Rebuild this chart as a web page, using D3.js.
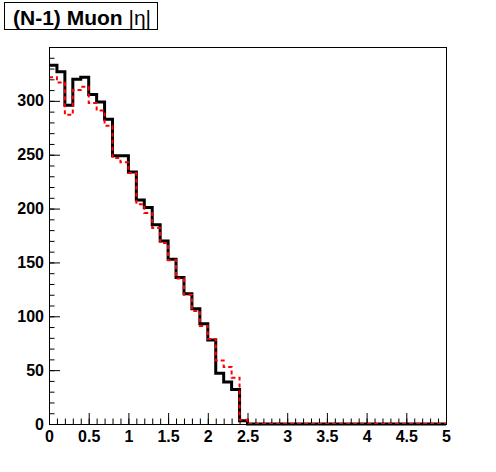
<!DOCTYPE html>
<html>
<head>
<meta charset="utf-8">
<script src="https://cdn.jsdelivr.net/npm/d3@7"></script>
<style>
  body { margin: 0; background: #fff; }
  svg { display: block; }
</style>
</head>
<body>
<svg id="chart"></svg>
<script>
// bin edges go 0 .. 5 in steps of 0.1 (50 bins)
var binLow = [0, 0.1, 0.2, 0.3, 0.4, 0.5, 0.6, 0.7, 0.8, 0.9,
  1.0, 1.1, 1.2, 1.3, 1.4, 1.5, 1.6, 1.7, 1.8, 1.9,
  2.0, 2.1, 2.2, 2.3, 2.4, 2.5, 2.6, 2.7, 2.8, 2.9,
  3.0, 3.1, 3.2, 3.3, 3.4, 3.5, 3.6, 3.7, 3.8, 3.9,
  4.0, 4.1, 4.2, 4.3, 4.4, 4.5, 4.6, 4.7, 4.8, 4.9];
var binWidth = 0.1;

// solid black histogram
var blackCounts = [333, 327, 296, 320, 322, 306, 299, 283, 249, 249,
  234, 208, 201, 185, 170, 153, 136, 121, 107, 93,
  78, 47, 39, 32, 3, 0, 0, 0, 0, 0,
  0, 0, 0, 0, 0, 0, 0, 0, 0, 0,
  0, 0, 0, 0, 0, 0, 0, 0, 0, 0];

// dashed red histogram
var redCounts = [322, 317, 287, 310, 313, 298, 291, 277, 247, 243,
  233, 204, 196, 182, 168, 152, 135, 120, 105, 91,
  79, 59, 53, 43, 4, 0, 0, 0, 0, 0,
  0, 0, 0, 0, 0, 0, 0, 0, 0, 0,
  0, 0, 0, 0, 0, 0, 0, 0, 0, 0];

var xMajor = [0, 0.5, 1, 1.5, 2, 2.5, 3, 3.5, 4, 4.5, 5];
var yMajor = [0, 50, 100, 150, 200, 250, 300];

var titleText = "(N-1) Muon ";
var titleSymbol = "|η|";

var width = 496,
  height = 472,
  margin = {top: 47, right: 50, bottom: 48, left: 49},
  innerWidth = width - margin.left - margin.right,
  innerHeight = height - margin.top - margin.bottom,
  fontFamily = "'Liberation Sans', Arial, Helvetica, sans-serif";

var svg = d3.select("#chart")
  .attr("width", width)
  .attr("height", height)
  .style("font-family", fontFamily);

svg.append("rect")
  .attr("width", width)
  .attr("height", height)
  .attr("fill", "#fff");

var x = d3.scaleLinear().domain([0, 5]).range([0, innerWidth]),
  y = d3.scaleLinear().domain([0, 350]).range([innerHeight, 0]);

var g = svg.append("g")
  .attr("transform", "translate(" + margin.left + "," + margin.top + ")");

// minor ticks (5 divisions per major), lines only
var xMinor = d3.range(0, 51).map(function(i) { return i / 10; }),
  yMinor = d3.range(0, 36).map(function(i) { return i * 10; });

var stripMinor = function(s) {
  s.select(".domain").remove();
  s.selectAll("text").remove();
};

g.append("g")
  .attr("transform", "translate(0," + innerHeight + ")")
  .call(d3.axisBottom(x).tickValues(xMinor).tickSize(-5.5))
  .call(stripMinor);

g.append("g")
  .call(d3.axisLeft(y).tickValues(yMinor).tickSize(-5.5))
  .call(stripMinor);

var xAxis = g.append("g")
  .attr("transform", "translate(0," + innerHeight + ")")
  .call(d3.axisBottom(x).tickValues(xMajor).tickSize(-11).tickPadding(6.5)
    .tickFormat(d3.format("~g")));

var yAxis = g.append("g")
  .call(d3.axisLeft(y).tickValues(yMajor).tickSize(-11).tickPadding(5)
    .tickFormat(d3.format("d")));

[xAxis, yAxis].forEach(function(a) {
  a.select(".domain").remove();
  a.selectAll("text")
    .attr("fill", "#000")
    .style("font-family", fontFamily)
    .style("font-size", "16px")
    .style("font-weight", "bold");
});
g.selectAll(".tick line").attr("stroke", "#000").attr("stroke-width", 1);

// step outline of a histogram (tops and risers between bins)
var stepPoints = function(counts) {
  var pts = [];
  counts.forEach(function(c, i) {
    pts.push([binLow[i], c]);
    pts.push([binLow[i] + binWidth, c]);
  });
  return pts;
};

var line = d3.line()
  .x(function(d) { return x(d[0]); })
  .y(function(d) { return y(d[1]); });

g.append("path")
  .attr("d", line(stepPoints(blackCounts)))
  .attr("fill", "none")
  .attr("stroke", "#000")
  .attr("stroke-width", 3)
  .attr("stroke-linejoin", "miter");

g.append("path")
  .attr("d", line(stepPoints(redCounts)))
  .attr("fill", "none")
  .attr("stroke", "#ff0000")
  .attr("stroke-width", 2)
  .attr("stroke-dasharray", "4,3");

// frame
g.append("rect")
  .attr("x", 0.5)
  .attr("y", 0.5)
  .attr("width", innerWidth)
  .attr("height", innerHeight)
  .attr("fill", "none")
  .attr("stroke", "#000")
  .attr("stroke-width", 1);

// title box
svg.append("rect")
  .attr("x", 4.5)
  .attr("y", 2.5)
  .attr("width", 153)
  .attr("height", 27)
  .attr("fill", "#fff")
  .attr("stroke", "#000")
  .attr("stroke-width", 1);

var title = svg.append("text")
  .attr("x", 13)
  .attr("y", 25)
  .attr("fill", "#000")
  .style("font-size", "21px")
  .style("font-weight", "bold");

title.append("tspan").text(titleText);
title.append("tspan").style("font-weight", "normal").text(titleSymbol);
</script>
</body>
</html>
